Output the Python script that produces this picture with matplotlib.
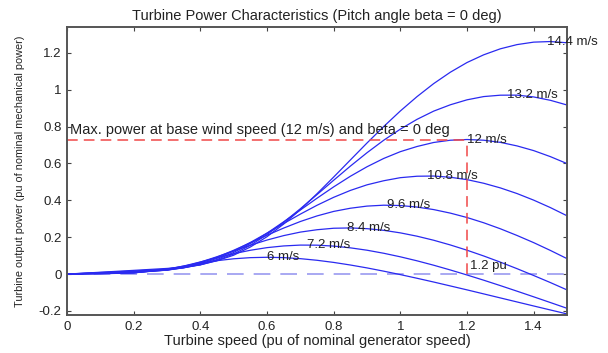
import matplotlib
matplotlib.use("Agg")
import matplotlib.pyplot as plt

# turbine speed, pu of nominal generator speed
speed = [0.0, 0.1, 0.2, 0.3, 0.35, 0.4, 0.45, 0.5, 0.55, 0.6, 0.65, 0.7, 0.75, 0.8,
         0.85, 0.9, 0.95, 1.0, 1.05, 1.1, 1.15, 1.2, 1.25, 1.3, 1.35, 1.4, 1.45, 1.5]

# output power (pu) for each wind speed
p_6 = [0, 0.0017, 0.0064, 0.0277, 0.0434, 0.0591, 0.0728, 0.0830, 0.0892, 0.0912,
       0.0893, 0.0837, 0.0749, 0.0633, 0.0493, 0.0335, 0.0159, -0.0028, -0.0226, -0.0431,
       -0.0643, -0.0856, -0.1074, -0.1293, -0.1511, -0.1730, -0.1946, -0.2161]
p_72 = [0, 0.0025, 0.0064, 0.0254, 0.0437, 0.0658, 0.0889, 0.1106, 0.1292, 0.1435,
        0.1527, 0.1573, 0.1569, 0.1518, 0.1424, 0.1295, 0.1130, 0.0937, 0.0720, 0.0481,
        0.0223, -0.0049, -0.0331, -0.0625, -0.0927, -0.1233, -0.1543, -0.1856]
p_84 = [0, 0.0034, 0.0074, 0.0225, 0.0403, 0.0648, 0.0942, 0.1255, 0.1564, 0.1847,
        0.2087, 0.2278, 0.2406, 0.2487, 0.2503, 0.2464, 0.2374, 0.2236, 0.2056, 0.1836,
        0.1580, 0.1295, 0.0983, 0.0648, 0.0294, -0.0077, -0.0459, -0.0858]
p_96 = [0, 0.0044, 0.0091, 0.0214, 0.0364, 0.0601, 0.0917, 0.1292, 0.1697, 0.2107,
        0.2497, 0.2852, 0.3155, 0.3400, 0.3572, 0.3688, 0.3737, 0.3718, 0.3636, 0.3499,
        0.3307, 0.3069, 0.2784, 0.2458, 0.2095, 0.1706, 0.1284, 0.0838]
p_108 = [0, 0.0057, 0.0114, 0.0215, 0.0343, 0.0549, 0.0856, 0.1251, 0.1716, 0.2221,
         0.2742, 0.3253, 0.3733, 0.4165, 0.4538, 0.4842, 0.5063, 0.5230, 0.5308, 0.5319,
         0.5251, 0.5124, 0.4927, 0.4675, 0.4369, 0.4011, 0.3608, 0.3163]
p_12 = [0, 0.0070, 0.0140, 0.0234, 0.0339, 0.0513, 0.0789, 0.1174, 0.1656, 0.2219,
        0.2836, 0.3475, 0.4115, 0.4731, 0.5306, 0.5822, 0.6272, 0.6641, 0.6921, 0.7139,
        0.7262, 0.7300, 0.7262, 0.7145, 0.6953, 0.6698, 0.6372, 0.5994]
p_132 = [0, 0.0085, 0.0168, 0.0267, 0.0356, 0.0498, 0.0741, 0.1091, 0.1563, 0.2142,
         0.2810, 0.3544, 0.4314, 0.5091, 0.5856, 0.6583, 0.7259, 0.7862, 0.8394, 0.8840,
         0.9184, 0.9453, 0.9629, 0.9704, 0.9708, 0.9609, 0.9427, 0.9172]
p_144 = [0, 0.0100, 0.0202, 0.0307, 0.0384, 0.0510, 0.0723, 0.1025, 0.1469, 0.2029,
         0.2715, 0.3498, 0.4360, 0.5264, 0.6189, 0.7111, 0.8002, 0.8848, 0.9626, 1.0333,
         1.0951, 1.1476, 1.1894, 1.2220, 1.2448, 1.2582, 1.2614, 1.2548]

curves = [p_6, p_72, p_84, p_96, p_108, p_12, p_132, p_144]
labels = ["6 m/s", "7.2 m/s", "8.4 m/s", "9.6 m/s", "10.8 m/s", "12 m/s", "13.2 m/s", "14.4 m/s"]
# peak point of each curve, where its label goes
peak_speed = [0.6, 0.72, 0.84, 0.96, 1.08, 1.2, 1.32, 1.44]
peak_power = [0.091, 0.158, 0.250, 0.374, 0.532, 0.730, 0.972, 1.260]

base_speed = 1.2
base_power = 0.73

x_ticks = [0, 0.2, 0.4, 0.6, 0.8, 1.0, 1.2, 1.4]
x_tick_labels = ["0", "0.2", "0.4", "0.6", "0.8", "1", "1.2", "1.4"]
y_ticks = [-0.2, 0, 0.2, 0.4, 0.6, 0.8, 1.0, 1.2]
y_tick_labels = ["-0.2", "0", "0.2", "0.4", "0.6", "0.8", "1", "1.2"]

plt.rcParams["font.family"] = ["Liberation Sans", "DejaVu Sans"]
txt = "#222222"

fig = plt.figure(figsize=(6.08, 3.53), dpi=100)
ax = fig.add_axes([0.1102, 0.1076, 0.8224, 0.8168])

# zero power reference
ax.plot([0, 1.5], [0, 0], color="#9a9af0", lw=1.2, dashes=(10, 6))

for p in curves:
    ax.plot(speed, p, color="#2a2af0", lw=0.9)

for lab, xs, ys in zip(labels, peak_speed, peak_power):
    ax.text(xs, ys, lab, fontsize=9.5, color=txt, ha="left", va="center", clip_on=False)

# rated point: max power at 12 m/s and 1.2 pu speed
ax.plot([0, base_speed], [base_power, base_power], color="#f04848", lw=1.1, dashes=(7, 4))
ax.plot([base_speed, base_speed], [0, base_power], color="#f04848", lw=1.1, dashes=(7, 4))
ax.text(0.01, 0.745, "Max. power at base wind speed (12 m/s) and beta = 0 deg",
        fontsize=10.5, color=txt, ha="left", va="bottom")
ax.text(base_speed + 0.01, 0.045, "1.2 pu", fontsize=9.5, color=txt, ha="left", va="center")

ax.set_xlim(0, 1.5)
ax.set_ylim(-0.222, 1.342)
ax.set_xticks(x_ticks, x_tick_labels)
ax.set_yticks(y_ticks, y_tick_labels)
ax.tick_params(direction="in", top=True, right=True, labelsize=9.5, colors="#444444",
               labelcolor=txt, length=3, pad=4)
for s in ax.spines.values():
    s.set_color("#555555")
    s.set_linewidth(1.4)

ax.set_title("Turbine Power Characteristics (Pitch angle beta = 0 deg)", fontsize=10.5, color=txt, pad=5)
ax.set_xlabel("Turbine speed (pu of nominal generator speed)", fontsize=10.5, color=txt, labelpad=1)
ax.set_ylabel("Turbine output power (pu of nominal mechanical power)", fontsize=7.8, color=txt, labelpad=10)

fig.savefig("out.png", dpi=100)
